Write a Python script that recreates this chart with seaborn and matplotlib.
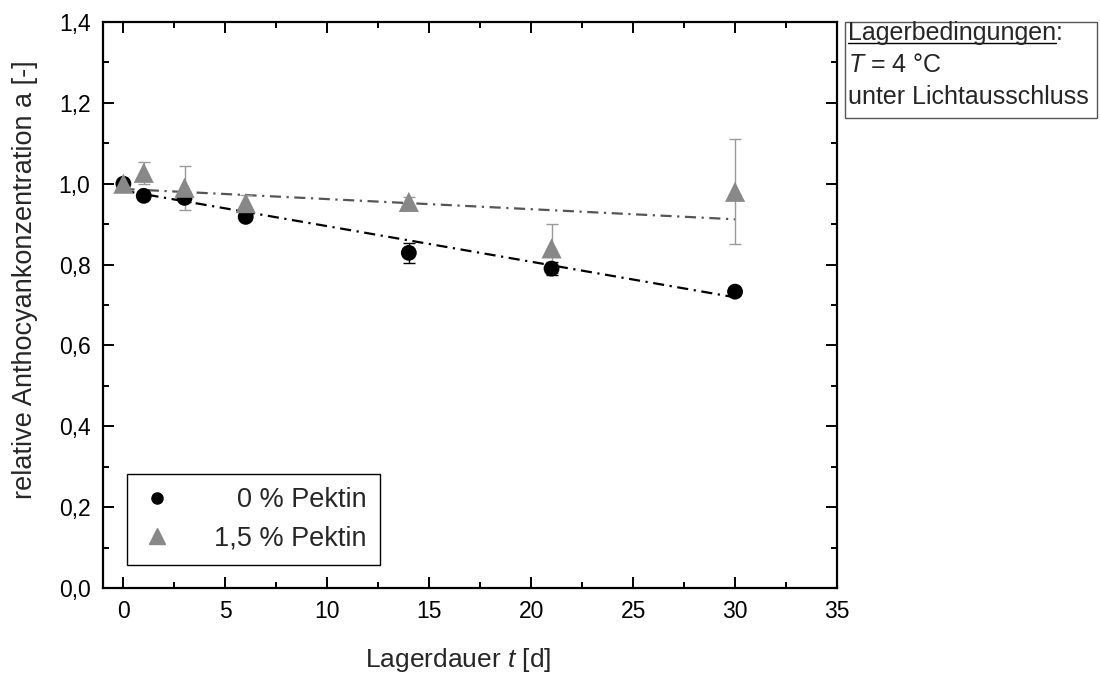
import numpy as np
import pandas as pd
import matplotlib
matplotlib.use("Agg")
import matplotlib.pyplot as plt
from matplotlib.ticker import MultipleLocator, FuncFormatter
from matplotlib.lines import Line2D
from matplotlib.patches import Rectangle
import seaborn as sns

# ---------------- data ----------------
days = [0, 1, 3, 6, 14, 21, 30]
pektin0 = [1.000, 0.970, 0.965, 0.918, 0.829, 0.790, 0.733]
pektin0_err = [0.004, 0.008, 0.010, 0.008, 0.025, 0.017, 0.005]
pektin15 = [1.000, 1.027, 0.990, 0.952, 0.955, 0.840, 0.980]
pektin15_err = [0.005, 0.027, 0.055, 0.020, 0.012, 0.060, 0.130]
series_labels = ["0 % Pektin", "1,5 % Pektin"]
fit_intercept = [0.983, 0.987]
fit_slope = [-0.0088, -0.0025]
x_ticks = [0, 5, 10, 15, 20, 25, 30, 35]
y_ticks = [0.0, 0.2, 0.4, 0.6, 0.8, 1.0, 1.2, 1.4]

# ---------------- style ----------------
sns.set_theme(style="ticks")
plt.rcParams["font.family"] = ["Liberation Sans", "DejaVu Sans"]
plt.rcParams["mathtext.fontset"] = "custom"
plt.rcParams["mathtext.rm"] = "Liberation Sans"
plt.rcParams["mathtext.it"] = "Liberation Sans:italic"

fig = plt.figure(figsize=(11, 6.77), dpi=100)
W, H = 1100, 677
ax = fig.add_axes([103 / W, 1 - 588 / H, (837 - 103) / W, (588 - 22) / H])

df = pd.DataFrame({
    "t": days * 2,
    "a": pektin0 + pektin15,
    "err": pektin0_err + pektin15_err,
    "serie": [series_labels[0]] * len(days) + [series_labels[1]] * len(days),
})

colors = {series_labels[0]: "#000000", series_labels[1]: "#888888"}
err_colors = {series_labels[0]: "#000000", series_labels[1]: "#9a9a9a"}
markers = {series_labels[0]: "o", series_labels[1]: "^"}
sizes = {series_labels[0]: 130, series_labels[1]: 210}

# fit lines
t_fit = np.array([days[0], days[-1]], dtype=float)
fit_colors = ["#000000", "#555555"]
for i, lab in enumerate(series_labels):
    fdf = pd.DataFrame({"t": t_fit, "a": fit_intercept[i] + fit_slope[i] * t_fit})
    sns.lineplot(data=fdf, x="t", y="a", ax=ax, color=fit_colors[i], lw=1.6,
                 linestyle=(0, (5, 2.5, 1, 2.5)), zorder=2)

# error bars
for lab in series_labels:
    sub = df[df["serie"] == lab]
    ax.errorbar(sub["t"], sub["a"], yerr=sub["err"], fmt="none",
                ecolor=err_colors[lab], elinewidth=1.0, capsize=4.5,
                capthick=1.0, zorder=3)

# markers
for lab in series_labels:
    sub = df[df["serie"] == lab]
    sns.scatterplot(data=sub, x="t", y="a", ax=ax, color=colors[lab],
                    marker=markers[lab], s=sizes[lab], edgecolor="none",
                    linewidth=0, zorder=4, legend=False)

# axes formatting
ax.set_xlim(-1, 35)
ax.set_ylim(0, 1.4)
ax.set_xticks(x_ticks)
ax.set_yticks(y_ticks)
ax.xaxis.set_minor_locator(MultipleLocator(2.5))
ax.yaxis.set_minor_locator(MultipleLocator(0.1))
ax.yaxis.set_major_formatter(FuncFormatter(lambda v, p: f"{v:.1f}".replace(".", ",")))
ax.tick_params(which="both", direction="in", top=True, right=True,
               width=1.4, colors="black", labelsize=16.5, pad=9)
ax.tick_params(which="major", length=8)
ax.tick_params(which="minor", length=4.5)
ax.tick_params(axis="x", labeltop=False)
ax.tick_params(axis="y", labelright=False)
for sp in ax.spines.values():
    sp.set_visible(True)
    sp.set_linewidth(1.6)
    sp.set_color("black")

ax.set_xlabel("Lagerdauer $t$ [d]", fontsize=19)
ax.set_ylabel("relative Anthocyankonzentration a [-]", fontsize=19.5)
ax.xaxis.set_label_coords(0.484, -0.127)
ax.xaxis.label.set_verticalalignment("center")
ax.yaxis.set_label_coords(-0.106, 0.544)
ax.yaxis.label.set_verticalalignment("center")

# legend
handles = [
    Line2D([], [], marker="o", color="#000000", linestyle="none", markersize=8),
    Line2D([], [], marker="^", color="#888888", linestyle="none", markersize=11),
]
leg = ax.legend(handles, series_labels, loc="lower left",
                bbox_to_anchor=(24 / 734, 23 / 566), borderaxespad=0,
                fontsize=19.5, frameon=True, fancybox=False, edgecolor="black",
                framealpha=1, handletextpad=1.5, borderpad=0.5,
                labelspacing=0.45, handlelength=1.2)
leg.get_frame().set_linewidth(1.0)

fig.canvas.draw()
renderer = fig.canvas.get_renderer()
widths = [t.get_window_extent(renderer).width for t in leg.get_texts()]
maxw = max(widths)
for t, w in zip(leg.get_texts(), widths):
    t.set_position((maxw - w, 0))

# annotation box (figure pixels -> fraction)
def fx(px):
    return px / W

def fy(py):
    return 1 - py / H

box = Rectangle((fx(845), fy(118)), fx(1097) - fx(845), fy(22) - fy(118),
                transform=fig.transFigure, fill=False, edgecolor="#555555", lw=1.0)
fig.patches.append(box)
ann_fs = 18
t1 = fig.text(fx(848), fy(40), "Lagerbedingungen", fontsize=ann_fs, va="baseline", ha="left")
fig.canvas.draw()
bb = t1.get_window_extent(renderer)
fig.text(bb.x1 / W, fy(40), ":", fontsize=ann_fs, va="baseline", ha="left")
ul = Line2D([bb.x0 / W, bb.x1 / W], [fy(43), fy(43)], transform=fig.transFigure,
            color="black", lw=1.0)
fig.lines.append(ul)
fig.text(fx(848), fy(72), "$T$ = 4 °C", fontsize=ann_fs, va="baseline", ha="left")
fig.text(fx(848), fy(104), "unter Lichtausschluss", fontsize=ann_fs, va="baseline", ha="left")

fig.savefig("out.png", dpi=100)
